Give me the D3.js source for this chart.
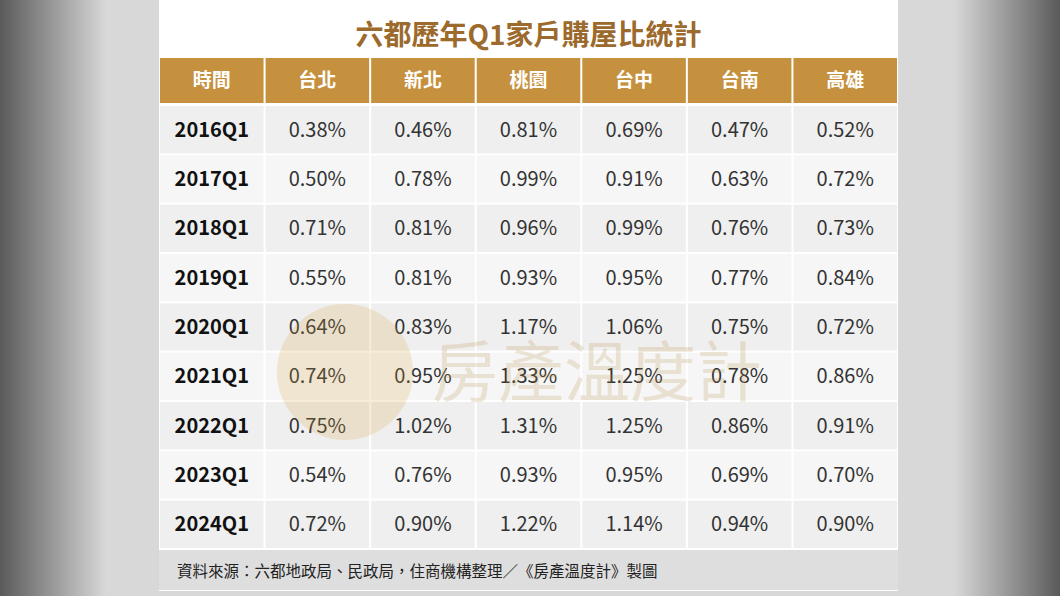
<!DOCTYPE html>
<html><head><meta charset="utf-8">
<script src="https://cdn.jsdelivr.net/npm/d3@7"></script>
<style>body{margin:0;background:#888}svg{display:block}</style>
</head><body><svg id="canvas" width="1060" height="596"></svg>
<script>
// table data
var title = '六都歷年Q1家戶購屋比統計'
var headers = ['時間', '台北', '新北', '桃園', '台中', '台南', '高雄']
var periods = ['2016Q1','2017Q1','2018Q1','2019Q1','2020Q1','2021Q1','2022Q1','2023Q1','2024Q1']
var taipei    = [0.38, 0.50, 0.71, 0.55, 0.64, 0.74, 0.75, 0.54, 0.72]
var newTaipei = [0.46, 0.78, 0.81, 0.81, 0.83, 0.95, 1.02, 0.76, 0.90]
var taoyuan   = [0.81, 0.99, 0.96, 0.93, 1.17, 1.33, 1.31, 0.93, 1.22]
var taichung  = [0.69, 0.91, 0.99, 0.95, 1.06, 1.25, 1.25, 0.95, 1.14]
var tainan    = [0.47, 0.63, 0.76, 0.77, 0.75, 0.78, 0.86, 0.69, 0.94]
var kaohsiung = [0.52, 0.72, 0.73, 0.84, 0.72, 0.86, 0.91, 0.70, 0.90]
var source = '資料來源：六都地政局、民政局，住商機構整理／《房產溫度計》製圖'
var watermark = '房產溫度計'

var series = [taipei, newTaipei, taoyuan, taichung, tainan, kaohsiung]
var font = '"Noto Sans CJK TC", "Noto Sans", sans-serif'
var svg = d3.select('#canvas')

// blurred backdrop
var defs = svg.append('defs')
var g = defs.append('linearGradient').attr('id', 'bg')
g.append('stop').attr('offset', '0%').attr('stop-color', '#5a5a5a')
g.append('stop').attr('offset', '10%').attr('stop-color', '#d8d8d8')
g.append('stop').attr('offset', '90%').attr('stop-color', '#d8d8d8')
g.append('stop').attr('offset', '100%').attr('stop-color', '#5a5a5a')
svg.append('rect').attr('width', 1060).attr('height', 596).attr('fill', 'url(#bg)')

var left = 159, right = 898
svg.append('rect').attr('x', left).attr('y', 0).attr('width', right - left).attr('height', 591).attr('fill', '#fff')

var x = d3.scaleBand().domain(d3.range(headers.length)).range([left, right])
var y = d3.scaleBand().domain(periods).range([105, 549])

svg.append('text').attr('x', (left + right) / 2).attr('y', 45).attr('text-anchor', 'middle')
  .attr('font-family', font).attr('font-weight', 700).attr('font-size', 28).attr('fill', '#9b6a2c').text(title)

// header row
var head = svg.append('g')
head.selectAll('rect').data(headers).enter().append('rect')
  .attr('x', (d, i) => x(i) + 1).attr('y', 58).attr('width', x.bandwidth() - 2).attr('height', 45)
  .attr('fill', '#c6913f')
head.selectAll('text').data(headers).enter().append('text')
  .attr('x', (d, i) => x(i) + x.bandwidth() / 2).attr('y', 87).attr('text-anchor', 'middle')
  .attr('font-family', font).attr('font-weight', 700).attr('font-size', 19).attr('fill', '#fff').text(d => d)

// body cells
var rows = svg.selectAll('g.row').data(periods).enter().append('g').attr('class', 'row')
rows.each(function(p, r) {
  var row = d3.select(this)
  var cells = [p].concat(series.map(s => s[r].toFixed(2) + '%'))
  row.selectAll('rect').data(cells).enter().append('rect')
    .attr('x', (d, i) => x(i) + 1).attr('y', y(p) + 1).attr('width', x.bandwidth() - 2).attr('height', y.bandwidth() - 2)
    .attr('fill', r % 2 ? '#f6f6f6' : '#efefef')
  row.selectAll('text').data(cells).enter().append('text')
    .attr('x', (d, i) => x(i) + x.bandwidth() / 2).attr('y', y(p) + y.bandwidth() / 2 + 7)
    .attr('text-anchor', 'middle').attr('font-family', font)
    .attr('font-weight', (d, i) => i ? 400 : 700).attr('font-size', 20)
    .attr('fill', (d, i) => i ? '#333' : '#111').text(d => d)
})

// watermark (sits behind the values in the reference)
var wm = svg.append('g').attr('opacity', 0.2).attr('pointer-events', 'none')
wm.append('circle').attr('cx', 345).attr('cy', 372).attr('r', 68).attr('fill', '#d9a441')
wm.append('text').attr('x', 432).attr('y', 396).attr('font-family', font).attr('font-size', 66)
  .attr('fill', '#b58a40').text(watermark)

// footer
svg.append('rect').attr('x', left).attr('y', 550).attr('width', right - left).attr('height', 40).attr('fill', '#dedede')
svg.append('text').attr('x', 177).attr('y', 577).attr('font-family', font).attr('font-size', 15.5)
  .attr('fill', '#222').text(source)
</script></body></html>
